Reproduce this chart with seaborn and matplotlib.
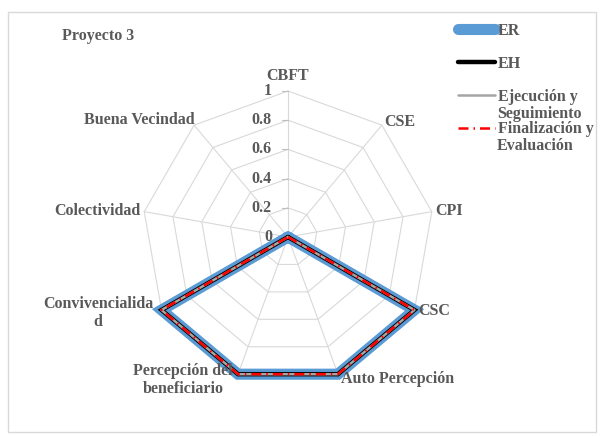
import matplotlib
matplotlib.use("Agg")
import matplotlib.pyplot as plt
import numpy as np
import seaborn as sns
from matplotlib.patches import Rectangle

# data
categories = ["CBFT", "CSE", "CPI", "CSC", "Auto Percepción",
              "Percepción del\nbeneficiario", "Convivencialida\nd",
              "Colectividad", "Buena Vecindad"]
er = [0, 0, 0, 1, 1, 1, 1, 0, 0]
eh = [0, 0, 0, 1, 1, 1, 1, 0, 0]
ejecucion = [0, 0, 0, 1, 1, 1, 1, 0, 0]
finalizacion = [0, 0, 0, 1, 1, 1, 1, 0, 0]
ticks = [0, 0.2, 0.4, 0.6, 0.8, 1]
tick_labels = ["0", "0.2", "0.4", "0.6", "0.8", "1"]

sns.set_theme(style="white")
plt.rcParams["font.family"] = ["Liberation Serif", "DejaVu Serif"]

TEXT = "#595959"
GRID = "#d9d9d9"
FS = 11.5

W, H = 600, 436
CX, CY, R = 288, 237, 146

fig = plt.figure(figsize=(6.0, 4.36), dpi=100)
ax = fig.add_axes([0, 0, 1, 1])
ax.set_xlim(-CX / R, (W - CX) / R)
ax.set_ylim(-(H - CY) / R, CY / R)
ax.axis("off")

n = len(categories)
angles = np.arange(n) * 2 * np.pi / n


def to_xy(vals):
    vals = np.asarray(vals, dtype=float)
    x = vals * np.sin(angles)
    y = vals * np.cos(angles)
    return np.append(x, x[0]), np.append(y, y[0])


# frame
ax.add_patch(Rectangle((-(CX - 8) / R, -(432 - CY) / R), (596 - 8) / R, (432 - 12) / R,
                       fill=False, edgecolor=GRID, lw=1.0, zorder=0))

# grid rings and spokes
for t in ticks[1:]:
    gx, gy = to_xy([t] * n)
    ax.plot(gx, gy, color=GRID, lw=0.8, zorder=1)
for a in angles:
    ax.plot([0, np.sin(a)], [0, np.cos(a)], color=GRID, lw=0.8, zorder=1)

# tick labels on vertical axis
for t, lab in zip(ticks, tick_labels):
    ax.plot([-0.04, 0], [t, t], color="#bfbfbf", lw=0.8, zorder=1)
    ax.text(-0.11, t, lab, ha="right", va="center", fontsize=FS,
            fontweight="bold", color=TEXT, zorder=5)

# series
x, y = to_xy(er)
ax.plot(x, y, color="#5B9BD5", lw=8, solid_joinstyle="miter", zorder=2, label="ER")
x, y = to_xy(eh)
ax.plot(x, y, color="black", lw=3.2, solid_joinstyle="miter", zorder=3, label="EH")
x, y = to_xy(ejecucion)
ax.plot(x, y, color="#A5A5A5", lw=1.8, zorder=4, label="Ejecución y")
x, y = to_xy(finalizacion)
ax.plot(x, y, color="#FF0000", lw=1.8, dashes=(4, 2, 0.6, 2), zorder=4,
        label="Finalización y")

# category labels
label_pos = {
    "CBFT": (0, 1.05, "center", "bottom"),
    "CSE": (0.66, 0.79, "left", "center"),
    "CPI": (1.01, 0.18, "left", "center"),
    "CSC": (0.89, -0.51, "left", "center"),
    "Auto Percepción": (0.36, -0.97, "left", "center"),
    "Percepción del\nbeneficiario": (-0.72, -0.98, "center", "center"),
    "Convivencialida\nd": (-1.30, -0.52, "center", "center"),
    "Colectividad": (-1.01, 0.18, "right", "center"),
    "Buena Vecindad": (-0.64, 0.80, "right", "center"),
}
for cat in categories:
    lx, ly, ha, va = label_pos[cat]
    ax.text(lx, ly, cat, ha=ha, va=va, fontsize=FS, fontweight="bold",
            color=TEXT, linespacing=1.1, zorder=6)

ax.text(-(CX - 62) / R, (CY - 36) / R, "Proyecto 3", ha="left", va="center",
        fontsize=FS, fontweight="bold", color=TEXT)

leg = ax.legend(loc="upper left", bbox_to_anchor=(450 / W, 1 - 15 / H),
                frameon=False, fontsize=FS, handlelength=2.3, handletextpad=0.2,
                labelspacing=1.05, borderpad=0)
texts = leg.get_texts()
for txt in texts:
    txt.set_color(TEXT)
    txt.set_fontweight("bold")

# second lines of the wrapped legend labels, placed under the first lines
fig.canvas.draw()
for txt, extra in [(texts[2], "Seguimiento"), (texts[3], "Evaluación")]:
    bb = txt.get_window_extent()
    fig.text((bb.x0 - 1) / W, (bb.y0 - 1) / H, extra, ha="left", va="top",
             fontsize=FS, fontweight="bold", color=TEXT)

fig.savefig("out.png", dpi=100)
